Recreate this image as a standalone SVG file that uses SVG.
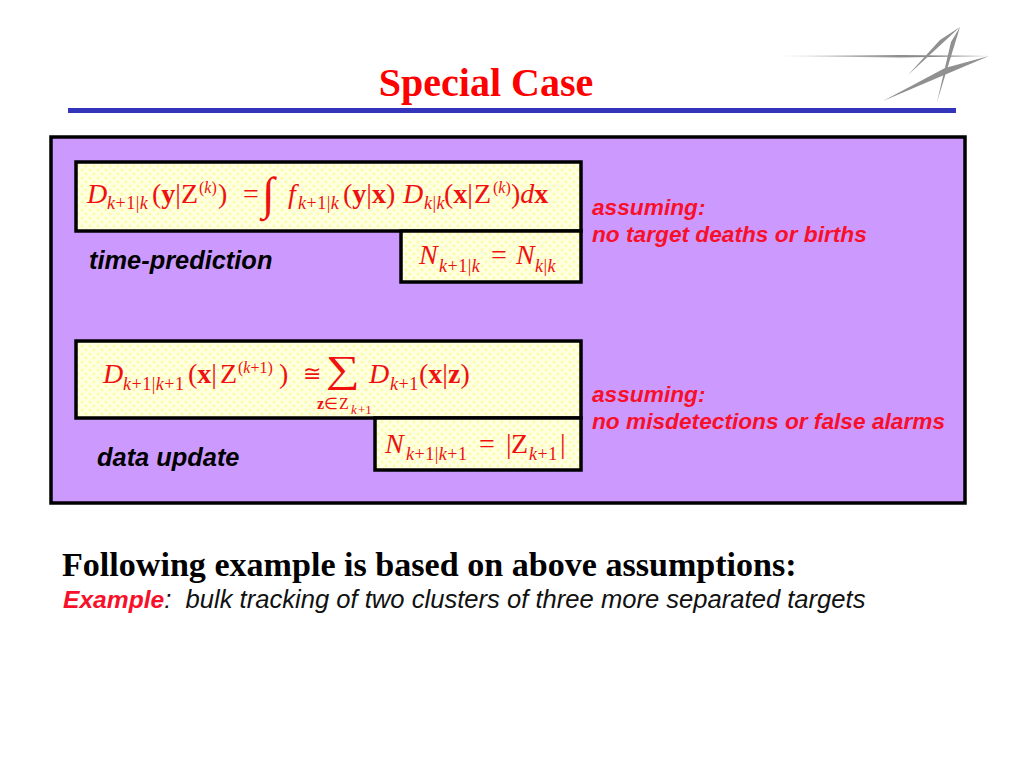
<svg xmlns="http://www.w3.org/2000/svg" width="1024" height="768" viewBox="0 0 1024 768">
<style>
.b{fill:url(#dots);stroke:#000;stroke-width:3.5}
.m{font-family:"Liberation Serif",serif;font-size:28px;fill:#f01010}
.s{font-size:18px;letter-spacing:.5px}
.p{font-size:16px}
.i{font-style:italic}
.bd{font-weight:700}
.n{font-family:"Liberation Sans",sans-serif;font-size:22.7px;font-weight:700;font-style:italic;fill:#f8102a}
.l{font-family:"Liberation Sans",sans-serif;font-size:25.4px;font-weight:700;font-style:italic;fill:#000}
</style>
<defs>
<pattern id="dots" width="8" height="8" patternUnits="userSpaceOnUse">
<rect width="8" height="8" fill="#ffffe2"/>
<circle cx="2" cy="2" r="1.4" fill="#fcfca0"/>
<circle cx="6" cy="6" r="1.4" fill="#fcfca0"/>
</pattern>
<linearGradient id="g" x1="0" x2="1" y1="0" y2="0"><stop offset="0" stop-color="#e4e4e4"/><stop offset="0.6" stop-color="#8c8c8c"/><stop offset="1" stop-color="#808080"/></linearGradient>
</defs>
<rect width="1024" height="768" fill="#fff"/>
<g id="logo">
<polygon points="776,56 900,55 989,56 900,57.5" fill="url(#g)"/>
<polygon points="960,27 908,75 940,40" fill="#909090"/>
<polygon points="960,27 937,102 951,42" fill="#909090"/>
<polygon points="989,56 883,101 945,68" fill="#909090"/>
</g>
<text id="title" x="486" y="96" text-anchor="middle" font-family="Liberation Serif,serif" font-size="40" font-weight="700" fill="#ff0000">Special Case</text>
<rect id="rule" x="68" y="108" width="888" height="5" fill="#3333bb"/>
<rect id="panel" x="51" y="137" width="914" height="366" fill="#cc99ff" stroke="#000" stroke-width="3.5"/>
<g id="box1">
<rect class="b" x="76" y="162" width="505" height="69"/>
<text class="m"><tspan class="i" x="87" y="203">D</tspan><tspan class="s i" x="107" y="209">k</tspan><tspan class="s">+1|</tspan><tspan class="s i">k</tspan><tspan x="152" y="203">(</tspan><tspan class="bd">y</tspan><tspan>|</tspan><tspan x="181">Z</tspan><tspan class="p" x="199" y="193">(</tspan><tspan class="p i">k</tspan><tspan class="p">)</tspan><tspan x="218" y="203">)</tspan><tspan x="243" y="203">=</tspan><tspan x="262" y="209" style="font-size:46px">∫</tspan><tspan class="i" x="288" y="203">f</tspan><tspan class="s i" x="298" y="209">k</tspan><tspan class="s">+1|</tspan><tspan class="s i">k</tspan><tspan x="343" y="203">(</tspan><tspan class="bd">y</tspan><tspan>|</tspan><tspan class="bd">x</tspan><tspan>)</tspan><tspan class="i" x="403" y="203">D</tspan><tspan class="s i" x="424" y="209">k</tspan><tspan class="s">|</tspan><tspan class="s i">k</tspan><tspan x="444" y="203">(</tspan><tspan class="bd">x</tspan><tspan>|</tspan><tspan x="474">Z</tspan><tspan class="p" x="493" y="193">(</tspan><tspan class="p i">k</tspan><tspan class="p">)</tspan><tspan x="511" y="203">)</tspan><tspan class="i">d</tspan><tspan class="bd">x</tspan></text>
</g>
<g id="box1n">
<rect class="b" x="401" y="231" width="180" height="51"/>
<text class="m"><tspan class="i" x="419" y="264">N</tspan><tspan class="s i" x="439" y="272">k</tspan><tspan class="s">+1|</tspan><tspan class="s i">k</tspan><tspan x="491" y="264">=</tspan><tspan class="i" x="516" y="264">N</tspan><tspan class="s i" x="535" y="272">k</tspan><tspan class="s">|</tspan><tspan class="s i">k</tspan></text>
</g>
<g id="box2">
<rect class="b" x="76" y="341" width="505" height="77"/>
<text class="m"><tspan class="i" x="103" y="383">D</tspan><tspan class="s i" x="123" y="390">k</tspan><tspan class="s">+1|</tspan><tspan class="s i">k</tspan><tspan class="s">+1</tspan><tspan x="188" y="383">(</tspan><tspan class="bd">x</tspan><tspan>|</tspan><tspan x="220">Z</tspan><tspan class="p" x="238" y="373">(</tspan><tspan class="p i">k</tspan><tspan class="p">+1)</tspan><tspan x="279" y="383">)</tspan><tspan x="303" y="381" style="font-size:22px">≅</tspan><tspan class="i" x="369" y="383">D</tspan><tspan class="s i" x="390" y="390">k</tspan><tspan class="s">+1</tspan><tspan x="419" y="383">(</tspan><tspan class="bd">x</tspan><tspan>|</tspan><tspan class="bd">z</tspan><tspan>)</tspan></text>
<text class="m" transform="translate(326,382) scale(1.25,1)" style="font-size:38px">∑</text>
<text class="m" style="font-size:16px"><tspan class="bd" x="317" y="409">z</tspan><tspan>∈</tspan><tspan x="339">Z</tspan><tspan class="i" x="351" y="414" style="font-size:13px">k</tspan><tspan x="358" y="414" style="font-size:13px">+1</tspan></text>
</g>
<g id="box2n">
<rect class="b" x="375" y="418" width="206" height="52"/>
<text class="m"><tspan class="i" x="385" y="453">N</tspan><tspan class="s i" x="406" y="460">k</tspan><tspan class="s">+1|</tspan><tspan class="s i">k</tspan><tspan class="s">+1</tspan><tspan x="479" y="453">=</tspan><tspan x="506" y="453">|</tspan><tspan x="511">Z</tspan><tspan class="s i" x="529" y="460">k</tspan><tspan class="s">+1</tspan><tspan x="560" y="453">|</tspan></text>
</g>
<text class="l" x="89" y="269">time-prediction</text>
<text class="l" x="97" y="466">data update</text>
<text class="n"><tspan x="592" y="215">assuming:</tspan><tspan x="592" y="242">no target deaths or births</tspan></text>
<text class="n"><tspan x="592" y="402">assuming:</tspan><tspan x="592" y="429">no misdetections or false alarms</tspan></text>
<text x="62" y="576" font-family="Liberation Serif,serif" font-size="34.1" font-weight="700" fill="#000">Following example is based on above assumptions:</text>
<text x="63" y="608" font-family="Liberation Sans,sans-serif" font-size="25.6" font-style="italic" fill="#111"><tspan font-weight="700" font-size="24.6" fill="#f8102a">Example</tspan>:&#160; bulk tracking of two clusters of three more separated targets</text>
</svg>
